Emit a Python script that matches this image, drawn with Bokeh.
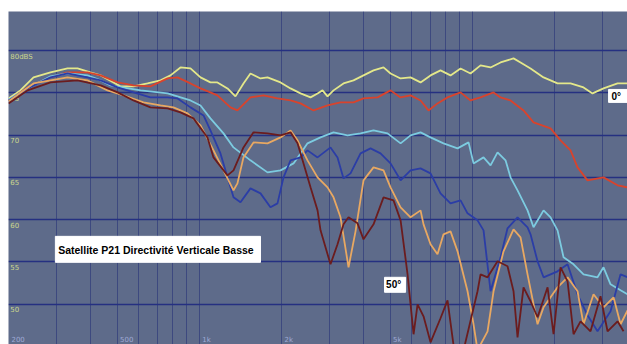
from bokeh.plotting import figure
from bokeh.models import FixedTicker, Range1d
from bokeh.core.properties import value
from bokeh.embed import file_html
from bokeh.resources import INLINE

# ---- data (frequency in Hz, level in dB) ----
f_0 = [200, 221, 247, 285, 329, 358, 399, 435, 485, 514, 574, 646, 721, 784, 853, 928, 1010, 1098, 1165,
       1268, 1356, 1451, 1539, 1675, 1777, 1983, 2158, 2348, 2554, 2710, 2826, 2948, 3101, 3373, 3670,
       3993, 4345, 4727, 5015, 5459, 5938, 6460, 7027, 7644, 8318, 9052, 9846, 10714, 11658, 12683,
       14151, 15013, 16333, 18228, 20512, 22890, 25536, 27548, 30226, 34025, 37012]
db_0 = [74.33, 75.28, 76.81, 77.40, 77.87, 77.87, 77.40, 77.05, 76.22, 75.75, 75.75, 76.10, 76.46, 77.05,
        77.99, 77.87, 76.81, 76.22, 76.22, 75.51, 74.57, 76.10, 77.28, 76.69, 76.81, 76.22, 75.51, 74.92,
        74.45, 74.92, 75.28, 74.57, 75.28, 76.10, 76.46, 77.05, 77.64, 77.99, 77.28, 76.69, 76.81, 76.22,
        77.05, 77.64, 77.05, 77.87, 77.28, 78.23, 77.99, 78.58, 79.06, 78.58, 77.87, 76.81, 76.10, 76.10,
        75.63, 74.92, 75.51, 76.10, 76.10]

f_10 = [200, 235, 285, 329, 389, 435, 502, 574, 662, 765, 832, 928, 1010, 1098, 1165, 1300, 1379, 1539,
        1718, 1933, 2158, 2348, 2620, 2948, 3289, 3670, 3993, 4494, 5015, 5459, 5938, 6460, 6910, 7453,
        8110, 9052, 9846, 10714, 11956, 12683, 13797, 15395, 16751, 19334, 21039, 22890, 24278, 26412,
        30226, 34025, 37012]
db_10 = [74.09, 75.63, 76.81, 77.40, 77.40, 77.05, 76.22, 75.87, 75.75, 76.69, 76.81, 76.10, 75.51, 75.04,
         74.69, 73.27, 72.91, 74.45, 74.69, 74.33, 74.09, 73.74, 72.91, 73.50, 73.86, 73.86, 74.33, 74.45,
         75.28, 74.45, 74.69, 74.09, 72.91, 73.74, 74.45, 75.04, 74.09, 74.45, 75.04, 74.45, 74.09, 72.91,
         71.50, 70.79, 69.37, 68.19, 66.18, 64.65, 65.00, 64.06, 63.82]

f_20 = [200, 235, 285, 329, 389, 435, 473, 609, 765, 928, 1010, 1098, 1226, 1334, 1539, 1777, 1983, 2213,
        2348, 2490, 2779, 3101, 3489, 3894, 4345, 4889, 5459, 5938, 6460, 7027, 7840, 8825, 9683, 10099,
        10988, 11658, 12366, 13228, 13797, 14638, 15925, 16751, 18228, 19334, 20512, 21578, 23473, 25536,
        28733, 30226, 32073, 34896, 37012]
db_20 = [74.21, 75.51, 76.93, 77.28, 77.05, 76.46, 75.87, 75.28, 74.92, 74.09, 73.50, 71.97, 70.20, 68.54,
         67.01, 65.59, 65.83, 66.65, 67.83, 69.02, 69.72, 70.32, 69.96, 70.20, 70.55, 70.20, 69.02, 69.96,
         70.32, 69.72, 69.02, 68.43, 69.13, 66.65, 67.36, 66.42, 67.95, 67.01, 65.00, 63.47, 61.10, 59.10,
         61.10, 60.28, 58.74, 55.55, 54.73, 53.54, 53.19, 54.37, 52.36, 51.65, 51.18]

f_30 = [200, 235, 285, 329, 389, 435, 502, 574, 662, 765, 832, 928, 1036, 1098, 1195, 1268, 1334, 1415,
        1539, 1675, 1822, 1933, 2034, 2158, 2348, 2490, 2710, 3023, 3207, 3373, 3579, 3894, 4237, 4609,
        5015, 5459, 5938, 6460, 7027, 7644, 8318, 9052, 9601, 10446, 10988, 11658, 12683, 13453, 14638,
        15925, 16333, 17327, 18228, 20512, 22318, 24278, 26412, 28733, 32073, 34896, 37012]
db_30 = [74.09, 75.51, 76.81, 77.28, 76.81, 76.46, 75.63, 75.04, 74.45, 74.45, 74.33, 73.27, 72.32, 70.55,
         67.83, 65.00, 62.64, 62.05, 63.70, 63.11, 61.46, 61.93, 65.00, 67.01, 67.36, 68.19, 67.36, 68.54,
         67.36, 64.88, 65.47, 67.83, 68.43, 67.83, 66.65, 64.65, 65.83, 66.06, 65.47, 63.11, 61.93, 62.28,
         60.75, 59.92, 58.74, 51.54, 55.55, 58.98, 60.28, 59.10, 58.27, 55.08, 53.19, 53.90, 54.73, 51.18,
         48.70, 46.81, 49.17, 53.54, 53.19]

f_40 = [200, 247, 329, 389, 461, 528, 624, 721, 804, 905, 1010, 1127, 1226, 1334, 1379, 1451, 1579, 1777,
        1983, 2158, 2289, 2490, 2710, 2948, 3101, 3289, 3519, 3733, 3993, 4345, 4727, 5015, 5459, 5938,
        6460, 6624, 7027, 7453, 7840, 8318, 8825, 9601, 10099, 10446, 11367, 11956, 13008, 14151, 15013,
        15925, 17327, 18228, 20512, 22318, 24278, 25536, 27782, 30226, 32894, 34896, 37012]
db_40 = [73.98, 76.10, 76.81, 76.46, 75.28, 74.69, 73.86, 73.50, 73.27, 72.56, 71.14, 68.19, 65.83, 63.47,
         64.29, 67.36, 69.13, 69.02, 69.72, 70.55, 69.37, 67.01, 65.00, 63.82, 62.64, 60.28, 54.37, 58.62,
         64.65, 66.18, 65.83, 63.82, 61.46, 60.28, 61.10, 59.45, 57.09, 55.91, 58.27, 58.62, 56.26, 51.54,
         47.64, 44.57, 46.81, 51.54, 56.26, 58.86, 57.91, 53.54, 47.64, 49.65, 52.01, 53.19, 51.54, 47.64,
         51.18, 49.65, 50.83, 47.64, 49.29]

f_50 = [200, 235, 285, 358, 435, 502, 574, 662, 765, 853, 952, 1071, 1127, 1268, 1334, 1451, 1579, 1777,
        1983, 2158, 2289, 2408, 2554, 2710, 2779, 3023, 3207, 3373, 3519, 3796, 3993, 4345, 4727, 5143,
        5459, 5790, 6090, 6299, 6624, 7027, 7644, 8110, 8532, 9283, 10446, 10714, 11367, 12366, 13453,
        14151, 14638, 15395, 16333, 17327, 18856, 19831, 21039, 22318, 23473, 24901, 27088, 29471, 31270,
        34025, 35779]
db_50 = [73.74, 75.28, 76.22, 76.46, 75.87, 75.04, 74.09, 73.27, 73.15, 72.68, 71.97, 69.72, 67.36, 65.24,
         65.83, 68.54, 70.32, 70.20, 69.96, 70.32, 69.02, 66.65, 63.82, 61.10, 58.74, 54.73, 57.09, 59.45,
         60.28, 59.57, 57.68, 59.45, 62.64, 62.28, 59.92, 53.54, 46.46, 50.00, 48.58, 45.51, 48.35, 50.47,
         45.16, 44.57, 51.54, 53.54, 53.19, 55.08, 54.49, 51.54, 46.10, 52.01, 50.36, 48.47, 52.01, 46.46,
         54.37, 52.72, 46.46, 47.99, 46.81, 50.95, 46.81, 47.99, 46.81]

series = [
    (f_0, db_0, "#e4e88a"),
    (f_10, db_10, "#d9432c"),
    (f_20, db_20, "#7ccbe0"),
    (f_30, db_30, "#2b3da6"),
    (f_40, db_40, "#e8a862"),
    (f_50, db_50, "#6b1c1e"),
]

y_ticks = [80, 75, 70, 65, 60, 55, 50]
y_tick_labels = ["80dBS", "75", "70", "65", "60", "55", "50"]
x_grid = [300, 400, 500, 600, 700, 800, 900, 1000, 2000, 3000, 4000, 5000, 6000, 7000, 8000, 9000,
          10000, 20000, 30000]
x_ticks = [200, 500, 1000, 2000, 5000]
x_tick_labels = ["200", "500", "1k", "2k", "5k"]

title_text = "Satellite P21 Directivité Verticale Basse"

p = figure(width=627, height=344, output_backend="svg", toolbar_location=None,
           x_axis_type="log", x_axis_location=None, y_axis_location=None,
           x_range=Range1d(200, 37000), y_range=Range1d(45.25, 84.6),
           min_border_left=8, min_border_right=0, min_border_top=11, min_border_bottom=0)
p.background_fill_color = "#5e6b8a"
p.border_fill_color = "white"
p.outline_line_color = None

p.xgrid.ticker = FixedTicker(ticks=x_grid)
p.xgrid.grid_line_color = "#34417c"
p.xgrid.grid_line_width = 1
p.xgrid.grid_line_alpha = 0.8
p.ygrid.ticker = FixedTicker(ticks=y_ticks)
p.ygrid.grid_line_color = "#253081"
p.ygrid.grid_line_width = 1.6

# in-plot tick labels
p.text(x=[203] * len(y_ticks), y=[v - 0.25 for v in y_ticks], text=y_tick_labels,
       text_font=value("DejaVu Sans"), text_font_size="7px", text_color="#cdd78e",
       text_baseline="top", text_align="left")
p.text(x=[t * 1.025 for t in x_ticks], y=[46.3] * len(x_ticks), text=x_tick_labels,
       text_font=value("DejaVu Sans"), text_font_size="7px", text_color="#9eaad6",
       text_baseline="top", text_align="left")

for fx, dbv, col in series:
    p.line(fx, dbv, line_color=col, line_width=1.8)

# annotation boxes
p.quad(left=[297], right=[1675], bottom=[54.96], top=[58.03], fill_color="white", line_color="white")
p.text(x=[304], y=[56.45], text=[title_text], text_font=value("Liberation Sans"), text_font_style="bold",
       text_font_size="10.5px", text_color="black", text_baseline="middle", text_align="left")

p.quad(left=[31540], right=[37012], bottom=[73.86], top=[75.39], fill_color="white", line_color="white")
p.text(x=[32300], y=[74.6], text=["0°"], text_font=value("Liberation Sans"), text_font_style="bold",
       text_font_size="10px", text_color="black", text_baseline="middle", text_align="left")

p.quad(left=[4768], right=[5694], bottom=[51.42], top=[53.19], fill_color="white", line_color="white")
p.text(x=[4830], y=[52.3], text=["50°"], text_font=value("Liberation Sans"), text_font_style="bold",
       text_font_size="10px", text_color="black", text_baseline="middle", text_align="left")

open("out.html", "w").write(file_html(p, INLINE))
